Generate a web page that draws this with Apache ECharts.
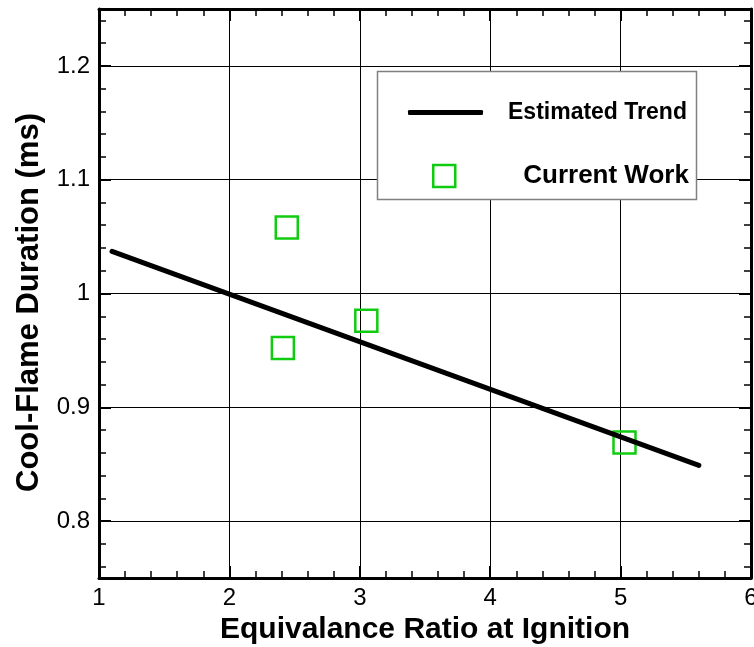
<!DOCTYPE html>
<html>
<head>
<meta charset="utf-8">
<script src="https://cdn.jsdelivr.net/npm/echarts@6/dist/echarts.min.js"></script>
<style>
html, body { margin: 0; padding: 0; background: #fff; }
#chart { width: 754px; height: 647px; }
</style>
</head>
<body>
<div id="chart"></div>
<script>
// estimated trend line end points
var trendX = [1.1, 5.6];
var trendY = [1.037, 0.849];
// measured points
var workX = [2.44, 2.41, 3.05, 5.03];
var workY = [1.058, 0.952, 0.976, 0.869];
// y ticks
var yMajorTicks = [0.8, 0.9, 1.0, 1.1, 1.2];
var yMinorTicks = [0.76, 0.78, 0.82, 0.84, 0.86, 0.88, 0.92, 0.94, 0.96, 0.98,
                   1.02, 1.04, 1.06, 1.08, 1.12, 1.14, 1.16, 1.18, 1.22, 1.24];

var font = 'Liberation Sans, Arial, sans-serif';
var green = '#10cc10';

function pairs(xs, ys) {
    return xs.map(function (x, i) { return [x, ys[i]]; });
}

function xAxisOf(pos) {
    var bottom = pos === 'bottom';
    return {
        type: 'value', position: pos, min: 1, max: 6, interval: 1,
        name: bottom ? 'Equivalance Ratio at Ignition' : '',
        nameLocation: 'middle', nameGap: 36,
        nameTextStyle: { fontFamily: font, fontSize: 30, fontWeight: 'bold', color: '#000' },
        axisLine: { show: true, onZero: false, lineStyle: { color: '#000', width: 3 } },
        axisTick: { show: true, inside: true, length: 12, lineStyle: { color: '#000', width: 2 } },
        minorTick: { show: true, splitNumber: 5, length: 7, lineStyle: { color: '#000', width: 1.5 } },
        splitLine: { show: bottom, lineStyle: { color: '#000', width: 1 } },
        axisLabel: { show: bottom, fontFamily: font, fontSize: 24, color: '#000', margin: 8 }
    };
}

function yAxisOf(pos, ticks, major, withLine) {
    var main = pos === 'left' && major;
    return {
        type: 'value', position: pos, min: 0.75, max: 1.25,
        name: main ? 'Cool-Flame Duration (ms)' : '',
        nameLocation: 'middle', nameGap: 54,
        nameTextStyle: { fontFamily: font, fontSize: 31, fontWeight: 'bold', color: '#000',
                         padding: [0, 18, 0, 0] },
        axisLine: { show: withLine, onZero: false, lineStyle: { color: '#000', width: 3 } },
        axisTick: { show: true, inside: true, customValues: ticks, length: major ? 12 : 7,
                    lineStyle: { color: '#000', width: major ? 2 : 1.5 } },
        splitLine: { show: main, lineStyle: { color: '#000', width: 1 } },
        axisLabel: { show: main, customValues: ticks, fontFamily: font, fontSize: 24, color: '#000', margin: 9,
                     formatter: function (v) { return String(Math.round(v * 100) / 100); } }
    };
}

var chart = echarts.init(document.getElementById('chart'), null, { renderer: 'canvas' });

chart.setOption({
    backgroundColor: '#fff',
    animation: false,
    grid: { left: 99, right: 3, top: 9, bottom: 69, containLabel: false, outerBoundsMode: 'none' },
    xAxis: [xAxisOf('bottom'), xAxisOf('top')],
    yAxis: [
        yAxisOf('left', yMajorTicks, true, true),
        yAxisOf('left', yMinorTicks, false, false),
        yAxisOf('right', yMajorTicks, true, true),
        yAxisOf('right', yMinorTicks, false, false)
    ],
    graphic: [{
        type: 'rect', z: 10,
        shape: { x: 377.5, y: 71.5, width: 319, height: 128 },
        style: { fill: '#fff', stroke: '#808080', lineWidth: 1.5 }
    }],
    legend: [{
        data: ['Estimated Trend'], left: 408, top: 101, padding: 0, z: 20,
        icon: 'roundRect', itemWidth: 75, itemHeight: 5,
        textStyle: { fontFamily: font, fontSize: 23, fontWeight: 'bold', color: '#000', padding: [0, 0, 0, 20] }
    }, {
        data: ['Current Work'], left: 432, top: 163, padding: 0, z: 20,
        icon: 'rect', itemWidth: 22, itemHeight: 22,
        itemStyle: { color: 'transparent', borderColor: green, borderWidth: 2.5 },
        textStyle: { fontFamily: font, fontSize: 26, fontWeight: 'bold', color: '#000', padding: [0, 0, 0, 63] }
    }],
    series: [{
        name: 'Estimated Trend', type: 'line', xAxisIndex: 0, yAxisIndex: 0,
        data: pairs(trendX, trendY), showSymbol: false, symbol: 'none',
        lineStyle: { color: '#000', width: 5, cap: 'round' },
        itemStyle: { color: '#000' }
    }, {
        name: 'Current Work', type: 'scatter', xAxisIndex: 0, yAxisIndex: 0,
        data: pairs(workX, workY), symbol: 'rect', symbolSize: 22,
        itemStyle: { color: 'transparent', borderColor: green, borderWidth: 2.5, opacity: 1 }
    }]
});
</script>
</body>
</html>
